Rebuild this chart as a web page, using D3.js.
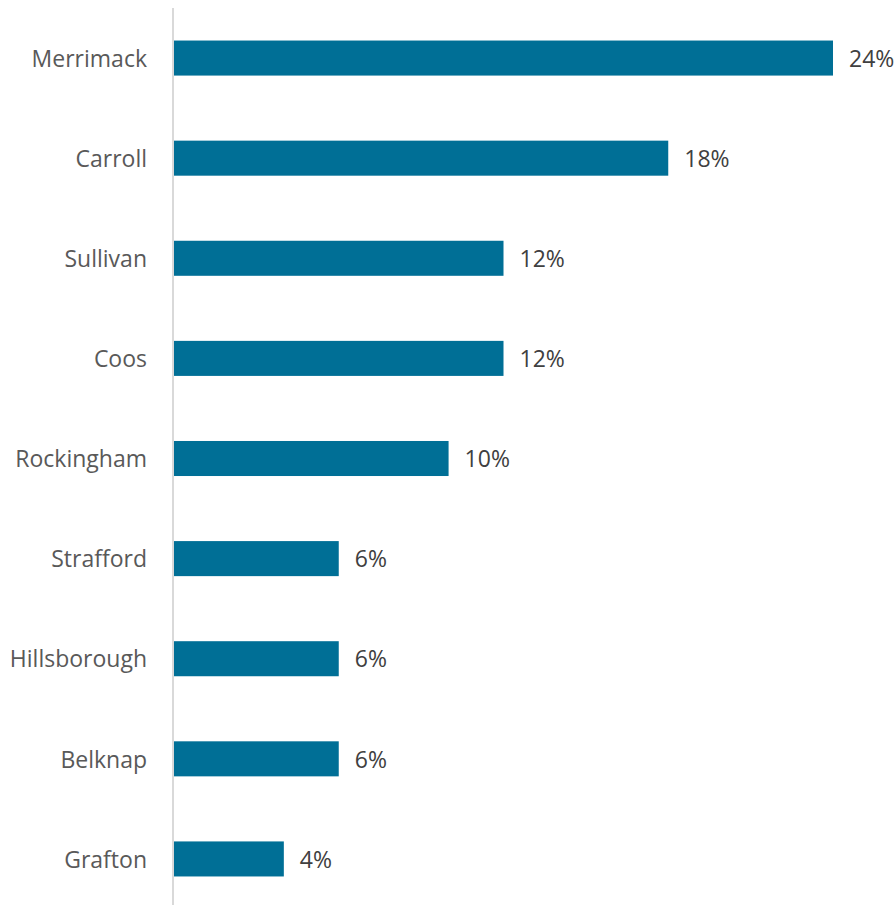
<!DOCTYPE html>
<html>
<head>
<meta charset="utf-8">
<script src="https://cdn.jsdelivr.net/npm/d3@7"></script>
<style>
  html, body { margin: 0; padding: 0; background: #ffffff; }
  svg { display: block; }
  text { font-family: "Open Sans", "Lato", sans-serif; }
</style>
</head>
<body>
<svg id="chart" width="895" height="905"></svg>
<script>
// Share by county
const counties = ["Merrimack", "Carroll", "Sullivan", "Coos", "Rockingham",
                  "Strafford", "Hillsborough", "Belknap", "Grafton"];
const shares = [0.24, 0.18, 0.12, 0.12, 0.10, 0.06, 0.06, 0.06, 0.04];

const data = counties.map((c, i) => ({ county: c, value: shares[i] }));

const svg = d3.select("#chart");

const x = d3.scaleLinear().domain([0, 0.24]).range([174, 833]);
const y = d3.scaleBand()
  .domain(counties)
  .range([8, 909])
  .paddingInner(0.65)
  .paddingOuter(0.325);

const fmt = d3.format(".0%");

// Category axis (left), line only
const yAxis = d3.axisLeft(y).tickSize(0).tickPadding(26);
const gy = svg.append("g")
  .attr("transform", `translate(${x(0) - 1},0)`)
  .call(yAxis);
gy.select(".domain").attr("stroke", "#d9d9d9").attr("stroke-width", 2)
  .attr("d", `M0,8V905`);
gy.selectAll(".tick text")
  .attr("fill", "#595959")
  .attr("dy", "0.38em")
  .style("font-size", "23px")
  .style("font-family", "'Open Sans', sans-serif");

// Bars
svg.append("g").selectAll("rect")
  .data(data)
  .join("rect")
  .attr("x", x(0))
  .attr("y", d => y(d.county))
  .attr("width", d => x(d.value) - x(0))
  .attr("height", y.bandwidth())
  .attr("fill", "#006f96");

// Value labels
svg.append("g").selectAll("text")
  .data(data)
  .join("text")
  .attr("x", d => x(d.value) + 16)
  .attr("y", d => y(d.county) + y.bandwidth() / 2)
  .attr("dy", "0.38em")
  .attr("fill", "#404040")
  .style("font-size", "23px")
  .text(d => fmt(d.value));
</script>
</body>
</html>
